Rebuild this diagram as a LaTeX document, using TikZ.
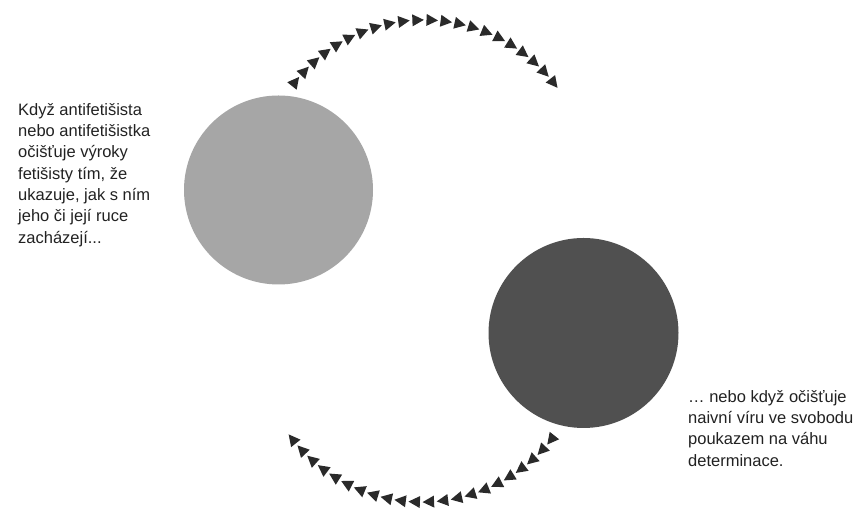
\documentclass[tikz,border=0pt]{standalone}
\usepackage{fontspec}
\setmainfont{Liberation Sans}
\begin{document}
\begin{tikzpicture}[x=1pt,y=1pt,
  blob/.style={circle, inner sep=0pt, draw=none},
  tri/.style={fill=arrowgray, draw=none},
  caption/.style={inner sep=0pt, align=left, anchor=north west, text=textgray,
    font=\fontsize{16.5}{21.3}\selectfont}]
\definecolor{lightblob}{HTML}{A6A6A6}
\definecolor{darkblob}{HTML}{505050}
\definecolor{arrowgray}{HTML}{2A2A2A}
\definecolor{textgray}{HTML}{222222}
\useasboundingbox (0,0) rectangle (860,510);
\fill[white] (0,0) rectangle (860,510);
% circles
\node[blob, fill=lightblob, minimum size=189pt] (light) at (278.5,320) {};
\node[blob, fill=darkblob, minimum size=190pt] (dark) at (583.5,177) {};
% arc centres
\coordinate (topc) at (424,325);
\coordinate (botc) at (422,173);
% top arc: triangles travelling clockwise, left to right
\foreach \i in {0,...,21} {
  \pgfmathsetmacro\a{141.4-\i*(141.4-38.3)/21}
  \fill[tri, shift={(topc)}, rotate=\a] (165,-6.5) -- (159,5) -- (171,5) -- cycle;
}
% bottom arc: triangles travelling clockwise, right to left
\foreach \i in {0,...,21} {
  \pgfmathsetmacro\a{321.6-\i*(321.6-218.4)/21}
  \fill[tri, shift={(botc)}, rotate=\a] (165,-6.5) -- (159,5) -- (171,5) -- cycle;
}
% texts
\node[caption] (lefttext) at (18,407) {Když antifetišista\\nebo antifetišistka\\očišťuje výroky\\fetišisty tím, že\\ukazuje, jak s ním\\jeho či její ruce\\zacházejí...};
\node[caption] (righttext) at (688,120) {… nebo když očišťuje\\naivní víru ve svobodu\\poukazem na váhu\\determinace.};
\end{tikzpicture}
\end{document}
